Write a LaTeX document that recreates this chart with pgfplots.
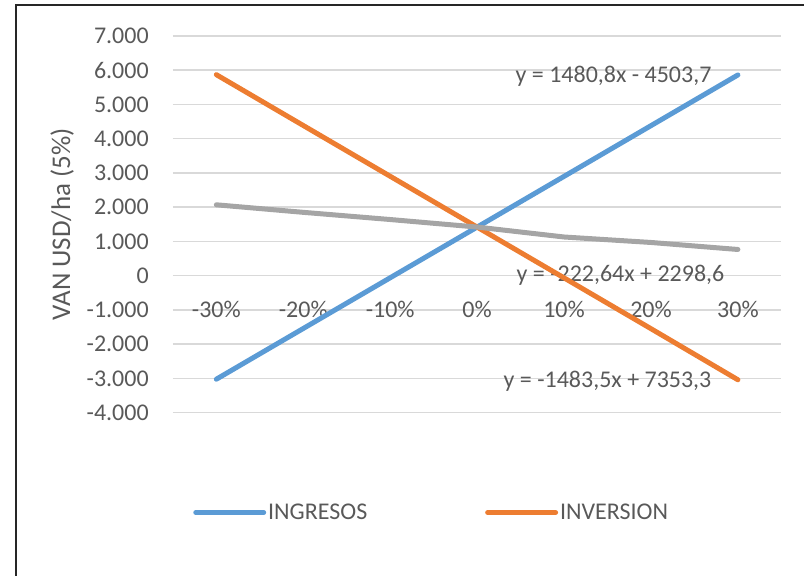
\documentclass[border=0pt]{standalone}
\usepackage{pgfplots}
\pgfplotsset{compat=1.18}
\usepackage{fontspec}
\setmainfont{Carlito}
\definecolor{tgray}{HTML}{595959}
\definecolor{gridc}{HTML}{D9D9D9}
\definecolor{cblue}{HTML}{5B9BD5}
\definecolor{corange}{HTML}{ED7D31}
\definecolor{cgray}{HTML}{A5A5A5}
\newcommand\bigfont{\fontsize{24}{29}\selectfont}
\begin{document}
\begin{tikzpicture}
\path (0,0) rectangle (805pt,576pt);
\draw[line width=1.3pt, black!85] (16pt,0) -- (16pt,571pt) -- (805pt,571pt);
\begin{axis}[
  at={(173pt,163pt)}, anchor=south west,
  scale only axis, width=609pt, height=377pt,
  xmin=-0.5, xmax=6.5, ymin=-4000, ymax=7000,
  set layers,
  axis line style={draw=none},
  major tick length=0pt,
  ymajorgrids, grid style={gridc, line width=1.5pt},
  xtick={0,...,6},
  xticklabels={-30\%,-20\%,-10\%,0\%,10\%,20\%,30\%},
  ytick={-4000,-3000,...,7000},
  yticklabels={-4.000,-3.000,-2.000,-1.000,0,1.000,2.000,3.000,4.000,5.000,6.000,7.000},
  ticklabel style={font=\bigfont, text=tgray},
  xticklabel style={anchor=center, yshift=103pt},
  yticklabel style={anchor=east, inner sep=0pt, xshift=-24pt},
  ylabel={VAN USD/ha (5\%)},
  ylabel style={at={(axis description cs:-0.182,0.5)}, anchor=center, font=\fontsize{27}{32}\selectfont, text=tgray},
  legend style={at={(axis description cs:0.4253,-0.265)}, anchor=center, draw=none, fill=none,
    font=\bigfont, text=tgray, legend columns=2, inner sep=0pt,
    /tikz/every even column/.append style={column sep=116pt}},
  legend cell align=left,
  legend image code/.code={\draw[#1] (0pt,0pt) -- (68pt,0pt);},
]
\node[font=\bigfont, text=tgray] at (axis cs:4.569,5833) {y = 1480,8x - 4503,7};
\node[font=\bigfont, text=tgray] at (axis cs:4.649,26) {y = -222,64x + 2298,6};
\node[font=\bigfont, text=tgray] at (axis cs:4.5,-3096) {y = -1483,5x + 7353,3};
\addplot[cblue, line width=5pt, line cap=round] coordinates {(0,-3023)(1,-1542)(2,-61)(3,1419)(4,2900)(5,4381)(6,5862)};
\addlegendentry{INGRESOS}
\addplot[corange, line width=5pt, line cap=round] coordinates {(0,5870)(1,4386)(2,2903)(3,1419)(4,-64)(5,-1548)(6,-3040)};
\addlegendentry{INVERSION}
\addplot[cgray, line width=5pt, line cap=round, forget plot] coordinates {(0,2070)(1,1850)(2,1640)(3,1420)(4,1130)(5,970)(6,765)};
\end{axis}
\end{tikzpicture}
\end{document}
